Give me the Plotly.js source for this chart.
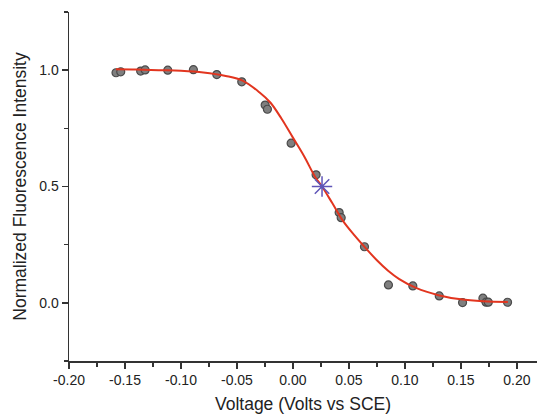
<!DOCTYPE html>
<html>
<head>
<meta charset="utf-8">
<script src="https://cdn.plot.ly/plotly-3.0.1.min.js"></script>
<style>html,body{margin:0;padding:0;background:#fff;}#chart{width:537px;height:414px;}</style>
</head>
<body>
<div id="chart"></div>
<script>
// Measured data points
const dataX = [-0.158, -0.1538, -0.136, -0.132, -0.1118, -0.0889, -0.068, -0.0457, -0.0248, -0.0228, -0.0016, 0.0207, 0.0413, 0.0431, 0.0639, 0.0853, 0.1071, 0.1307, 0.1515, 0.1697, 0.1725, 0.1745, 0.1917];
const dataY = [0.989, 0.993, 0.996, 1.001, 1.000, 1.002, 0.981, 0.950, 0.850, 0.832, 0.686, 0.550, 0.388, 0.366, 0.241, 0.077, 0.0725, 0.0295, 0.001, 0.020, 0.003, 0.003, 0.0025];
// Fitted curve
const fitX = [-0.158, -0.14, -0.12, -0.10, -0.08, -0.06, -0.045, -0.03, -0.02, -0.01, 0.00, 0.01, 0.02, 0.026, 0.035, 0.045, 0.055, 0.065, 0.075, 0.085, 0.095, 0.11, 0.13, 0.15, 0.17, 0.192];
const fitY = [1.004, 1.003, 1.000, 0.997, 0.990, 0.975, 0.955, 0.905, 0.86, 0.79, 0.71, 0.63, 0.54, 0.50, 0.43, 0.35, 0.29, 0.235, 0.183, 0.138, 0.102, 0.064, 0.033, 0.015, 0.007, 0.004];
// Midpoint marker
const midX = [0.026];
const midY = [0.50];
// Tick labels
const xTickVals = [-0.20, -0.15, -0.10, -0.05, 0.00, 0.05, 0.10, 0.15, 0.20];
const xTickText = ["-0.20", "-0.15", "-0.10", "-0.05", "0.00", "0.05", "0.10", "0.15", "0.20"];
const yTickVals = [0.0, 0.5, 1.0];
const yTickText = ["0.0", "0.5", "1.0"];
const xTitle = "Voltage (Volts vs SCE)";
const yTitle = "Normalized Fluorescence Intensity";

const traces = [
  {x: dataX, y: dataY, mode: 'markers', type: 'scatter',
   marker: {size: 8, color: '#7f7f7f', line: {color: '#4a4a4a', width: 1.2}}},
  {x: fitX, y: fitY, mode: 'lines', type: 'scatter', line: {color: '#e2351f', width: 2, shape: 'spline', smoothing: 1}},
  {x: midX, y: midY, mode: 'markers', type: 'scatter',
   marker: {symbol: 'asterisk-open', size: 17, color: '#5f55b8', line: {color: '#5f55b8', width: 1.5}}}
];

const layout = {
  width: 537, height: 414,
  margin: {l: 69, r: 0, t: 12, b: 53},
  paper_bgcolor: '#fff', plot_bgcolor: '#fff',
  showlegend: false,
  font: {family: 'Liberation Sans, Arial, sans-serif', color: '#333', size: 14},
  xaxis: {
    range: [-0.2, 0.218], tickmode: 'array', tickvals: xTickVals, ticktext: xTickText,
    showgrid: false, zeroline: false, showline: true, linecolor: '#333', linewidth: 1.5,
    ticks: 'outside', ticklen: 6, tickwidth: 1.5, tickcolor: '#333',
    minor: {dtick: 0.025, tick0: 0, ticks: 'outside', ticklen: 4, tickwidth: 1.5, tickcolor: '#333', showgrid: false},
    tickfont: {size: 14, color: '#222'},
    title: {text: xTitle, font: {size: 17.5, color: '#222'}, standoff: 10}
  },
  yaxis: {
    range: [-0.25, 1.25], tickmode: 'array', tickvals: yTickVals, ticktext: yTickText,
    showgrid: false, zeroline: false, showline: true, linecolor: '#333', linewidth: 1.5,
    ticks: 'outside', ticklen: 6, tickwidth: 1.5, tickcolor: '#333',
    minor: {dtick: 0.25, tick0: 0, ticks: 'outside', ticklen: 4, tickwidth: 1.5, tickcolor: '#333', showgrid: false},
    tickfont: {size: 14, color: '#222'},
    title: {text: yTitle, font: {size: 17.5, color: '#222'}, standoff: 8}
  }
};

Plotly.newPlot('chart', traces, layout, {displayModeBar: false, staticPlot: true});
</script>
</body>
</html>
